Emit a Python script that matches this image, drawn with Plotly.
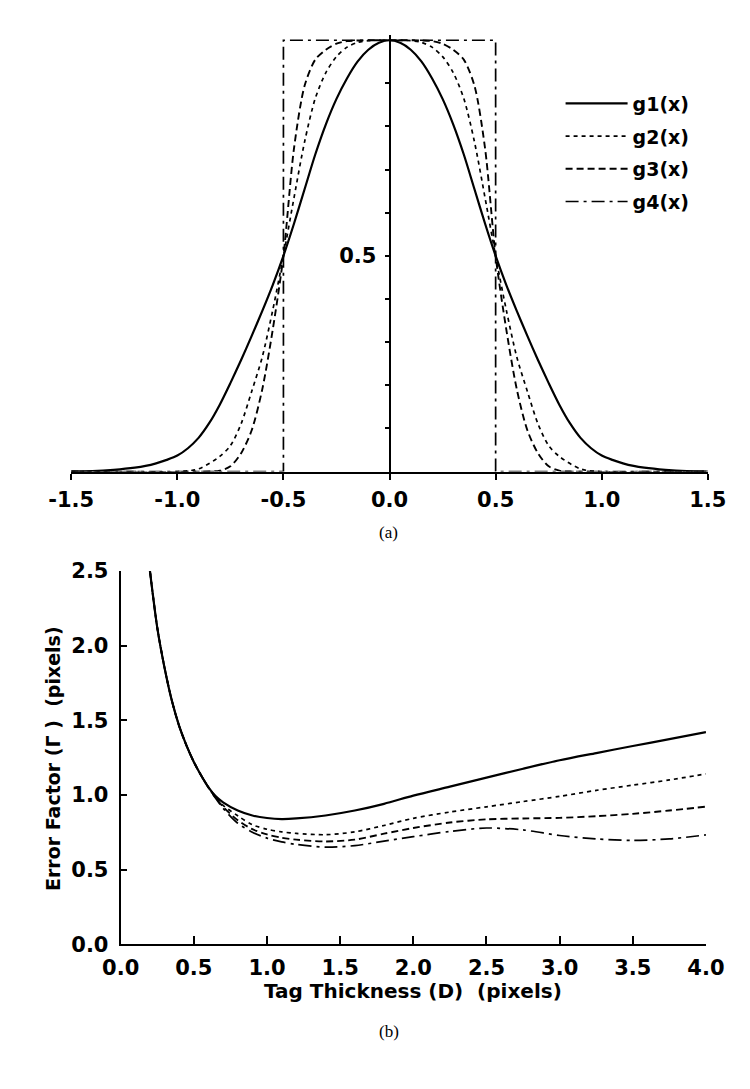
import plotly.graph_objects as go

# ---------------- data: panel (a) tag profiles ----------------
g1_x = [-1.5, -1.4, -1.3, -1.2, -1.15, -1.1, -1.05, -1.0, -0.95, -0.9, -0.85, -0.8, -0.75, -0.7, -0.65, -0.6,
        -0.55, -0.5, -0.45, -0.4, -0.35, -0.3, -0.25, -0.2, -0.15, -0.1, -0.05, 0.0,
        0.05, 0.1, 0.15, 0.2, 0.25, 0.3, 0.35, 0.4, 0.45, 0.5, 0.55, 0.6, 0.65, 0.7, 0.75, 0.8,
        0.85, 0.9, 0.95, 1.0, 1.05, 1.1, 1.15, 1.2, 1.3, 1.4, 1.5]
g1_y = [0.0, 0.001, 0.004, 0.009, 0.013, 0.019, 0.027, 0.037, 0.054, 0.078, 0.112, 0.155, 0.205, 0.258, 0.314, 0.372,
        0.433, 0.5, 0.575, 0.655, 0.735, 0.805, 0.864, 0.912, 0.951, 0.978, 0.994, 1.0,
        0.994, 0.978, 0.951, 0.912, 0.864, 0.805, 0.735, 0.655, 0.575, 0.5, 0.433, 0.372, 0.314, 0.258, 0.205, 0.155,
        0.112, 0.078, 0.054, 0.037, 0.027, 0.019, 0.013, 0.009, 0.004, 0.001, 0.0]

g2_x = [-1.5, -1.0, -0.9, -0.8, -0.75, -0.7, -0.65, -0.6, -0.55, -0.5, -0.45, -0.4, -0.35, -0.3, -0.25, -0.2, -0.15, -0.1, 0.0,
        0.1, 0.15, 0.2, 0.25, 0.3, 0.35, 0.4, 0.45, 0.5, 0.55, 0.6, 0.65, 0.7, 0.75, 0.8, 0.9, 1.0, 1.5]
g2_y = [0.0, 0.0, 0.006, 0.035, 0.06, 0.11, 0.185, 0.265, 0.375, 0.5, 0.635, 0.765, 0.865, 0.925, 0.962, 0.984, 0.995, 0.999, 1.0,
        0.999, 0.995, 0.984, 0.962, 0.925, 0.865, 0.765, 0.635, 0.5, 0.375, 0.265, 0.185, 0.11, 0.06, 0.035, 0.006, 0.0, 0.0]

g3_x = [-1.5, -0.85, -0.8, -0.75, -0.7, -0.65, -0.6, -0.55, -0.5, -0.45, -0.4, -0.35, -0.3, -0.25, -0.2, 0.0,
        0.2, 0.25, 0.3, 0.35, 0.4, 0.45, 0.5, 0.55, 0.6, 0.65, 0.7, 0.75, 0.8, 0.85, 1.5]
g3_y = [0.0, 0.0, 0.002, 0.012, 0.042, 0.095, 0.19, 0.33, 0.5, 0.75, 0.895, 0.955, 0.978, 0.992, 0.998, 1.0,
        0.998, 0.992, 0.978, 0.955, 0.895, 0.75, 0.5, 0.33, 0.19, 0.095, 0.042, 0.012, 0.002, 0.0, 0.0]

g4_x = [-1.5, -0.5, -0.5, 0.5, 0.5, 1.5]
g4_y = [0.0, 0.0, 1.0, 1.0, 0.0, 0.0]

# ---------------- data: panel (b) error factor ----------------
D = [0.2, 0.25, 0.3, 0.35, 0.4, 0.45, 0.5, 0.55, 0.6, 0.65, 0.7, 0.8, 0.9, 1.0, 1.1, 1.2, 1.4, 1.6, 1.8,
     2.0, 2.25, 2.5, 2.75, 3.0, 3.25, 3.5, 3.75, 4.0]
err_g1 = [2.5, 2.12, 1.85, 1.63, 1.46, 1.33, 1.22, 1.13, 1.05, 0.99, 0.95, 0.895, 0.862, 0.845, 0.838, 0.842,
          0.862, 0.895, 0.94, 0.995, 1.055, 1.115, 1.175, 1.232, 1.28, 1.327, 1.373, 1.42]
err_g2 = [2.5, 2.12, 1.85, 1.63, 1.46, 1.33, 1.22, 1.13, 1.05, 0.985, 0.93, 0.86, 0.80, 0.77, 0.752, 0.742,
          0.733, 0.752, 0.795, 0.843, 0.885, 0.92, 0.955, 0.99, 1.03, 1.065, 1.10, 1.14]
err_g3 = [2.5, 2.12, 1.85, 1.63, 1.46, 1.33, 1.22, 1.13, 1.05, 0.98, 0.92, 0.83, 0.77, 0.735, 0.713, 0.70,
          0.688, 0.70, 0.74, 0.778, 0.815, 0.836, 0.842, 0.846, 0.857, 0.873, 0.895, 0.921]
err_g4 = [2.5, 2.12, 1.85, 1.63, 1.46, 1.33, 1.22, 1.13, 1.05, 0.975, 0.91, 0.81, 0.75, 0.71, 0.685, 0.668,
          0.65, 0.66, 0.69, 0.72, 0.755, 0.778, 0.765, 0.728, 0.705, 0.695, 0.705, 0.732]

names = ["g1(x)", "g2(x)", "g3(x)", "g4(x)"]
top_ticks = [-1.5, -1.0, -0.5, 0.0, 0.5, 1.0, 1.5]
top_ticktext = ["-1.5", "-1.0", "-0.5", "0.0", "0.5", "1.0", "1.5"]
top_end_ticks = [-1.5, 1.5]
top_yticks = [0.1, 0.2, 0.3, 0.4, 0.5, 0.6, 0.7, 0.8, 0.9]
top_yticktext = ["", "", "", "", "0.5", "", "", "", ""]
bot_xticks = [0.0, 0.5, 1.0, 1.5, 2.0, 2.5, 3.0, 3.5, 4.0]
bot_xticktext = ["0.0", "0.5", "1.0", "1.5", "2.0", "2.5", "3.0", "3.5", "4.0"]
bot_yticks = [0.0, 0.5, 1.0, 1.5, 2.0, 2.5]
bot_yticktext = ["0.0", "0.5", "1.0", "1.5", "2.0", "2.5"]

W, H = 750, 1089
BLACK = "black"
dashes = ["solid", "4px,4px", "7px,4px", "13px,5px,3px,5px"]
widths = [2.2, 1.7, 1.9, 1.7]

fig = go.Figure()
top_sets = [(g1_x, g1_y), (g2_x, g2_y), (g3_x, g3_y), (g4_x, g4_y)]
for i, (xs, ys) in enumerate(top_sets):
    fig.add_trace(go.Scatter(
        x=xs, y=ys, mode="lines", name=names[i], legendgroup=names[i],
        line=dict(color=BLACK, width=widths[i], dash=dashes[i],
                  shape="linear" if i == 3 else "spline", smoothing=0.8),
        xaxis="x", yaxis="y", showlegend=True))

for i, ys in enumerate([err_g1, err_g2, err_g3, err_g4]):
    fig.add_trace(go.Scatter(
        x=D, y=ys, mode="lines", name=names[i],
        line=dict(color=BLACK, width=widths[i], dash=dashes[i], shape="spline", smoothing=0.8),
        xaxis="x2", yaxis="y2", showlegend=False))

tickfont = dict(family="DejaVu Sans", size=21, color=BLACK, weight="bold")

def px_x(p):
    return p / W

def px_y(p):
    return 1 - p / H

# panel (a) geometry
a_x0, a_x1 = 42.6, 717.0
a_y0, a_y1 = 461.7, 20.7
a_unit = a_y0 - a_y1
a_top = 1.012
a_dom = [px_y(a_y0), px_y(a_y0 - a_unit * a_top)]
a_pos = px_x((a_x0 + a_x1) / 2)

# panel (b) geometry
b_x0, b_x1 = 95.0, 715.0
b_y0, b_y1 = 945.0, 563.3

common = dict(showgrid=False, zeroline=False, color=BLACK)
a_xdom = [px_x(a_x0), px_x(a_x1)]

fig.update_layout(
    width=W, height=H, margin=dict(l=0, r=0, t=0, b=0),
    paper_bgcolor="white", plot_bgcolor="white",
    xaxis=dict(domain=a_xdom, range=[-1.5, 1.5], anchor="y",
               showline=True, linecolor=BLACK, linewidth=2,
               ticks="outside", ticklen=6, tickwidth=2, tickcolor=BLACK,
               tickvals=top_ticks, ticktext=top_ticktext, tickfont=tickfont,
               ticklabelstandoff=2, **common),
    xaxis3=dict(domain=a_xdom, range=[-1.5, 1.5], anchor="y", overlaying="x",
                showline=False, ticks="inside", ticklen=6, tickwidth=2, tickcolor=BLACK,
                tickvals=top_ticks, showticklabels=False, **common),
    xaxis4=dict(domain=a_xdom, range=[-1.5, 1.5], anchor="y", overlaying="x",
                showline=False, ticks="inside", ticklen=9, tickwidth=2, tickcolor=BLACK,
                tickvals=top_end_ticks, showticklabels=False, **common),
    yaxis=dict(domain=a_dom, range=[0, a_top], anchor="free", position=a_pos,
               showline=True, linecolor=BLACK, linewidth=2,
               ticks="outside", ticklen=4, tickwidth=2, tickcolor=BLACK,
               tickvals=top_yticks, ticktext=top_yticktext, tickfont=tickfont,
               ticklabelstandoff=4, **common),
    yaxis3=dict(domain=a_dom, range=[0, a_top], anchor="free", position=a_pos, overlaying="y",
                showline=False, ticks="inside", ticklen=4, tickwidth=2, tickcolor=BLACK,
                tickvals=top_yticks, showticklabels=False, **common),
    yaxis4=dict(domain=a_dom, range=[0, a_top], anchor="free", position=a_pos, overlaying="y",
                showline=False, ticks="outside", ticklen=7, tickwidth=2, tickcolor=BLACK,
                tickvals=[0.5], showticklabels=False, **common),
    yaxis5=dict(domain=a_dom, range=[0, a_top], anchor="free", position=a_pos, overlaying="y",
                showline=False, ticks="inside", ticklen=7, tickwidth=2, tickcolor=BLACK,
                tickvals=[0.5], showticklabels=False, **common),
    xaxis2=dict(domain=[px_x(b_x0), px_x(b_x1)], range=[0, 4], anchor="y2",
                showline=True, linecolor=BLACK, linewidth=2,
                ticks="inside", ticklen=8, tickwidth=2, tickcolor=BLACK,
                tickvals=bot_xticks, ticktext=bot_xticktext, tickfont=tickfont,
                ticklabelstandoff=4, **common),
    yaxis2=dict(domain=[px_y(b_y0), px_y(b_y1)], range=[0, 2.5], anchor="x2",
                showline=True, linecolor=BLACK, linewidth=2,
                ticks="inside", ticklen=6, tickwidth=2, tickcolor=BLACK,
                tickvals=bot_yticks, ticktext=bot_yticktext, tickfont=tickfont,
                ticklabelstandoff=6, **common),
    legend=dict(x=px_x(561), y=px_y(66), xanchor="left", yanchor="top",
                font=dict(family="DejaVu Sans", size=19, color=BLACK, weight="bold"),
                itemwidth=62, tracegroupgap=5, traceorder="grouped",
                bgcolor="rgba(0,0,0,0)", borderwidth=0),
    showlegend=True,
)

def note(text, xp, yp, font, angle=0):
    fig.add_annotation(text=text, x=px_x(xp), y=px_y(yp), xref="paper", yref="paper",
                       xanchor="center", yanchor="middle", showarrow=False,
                       textangle=angle, font=font)

serif = dict(family="Liberation Serif", size=17, color=BLACK)
title_font = dict(family="DejaVu Sans", size=20, color=BLACK, weight="bold")
note("(a)", 379, 524, serif)
note("(b)", 379, 1034, serif)
note("Tag Thickness (D)\u00a0\u00a0(pixels)", 405, 993, title_font)
note("Error Factor (\u0393\u00a0)\u00a0\u00a0(pixels)", 24, 755,
     dict(family="DejaVu Sans", size=19, color=BLACK, weight="bold"), angle=-90)

fig.write_html("out.html")
